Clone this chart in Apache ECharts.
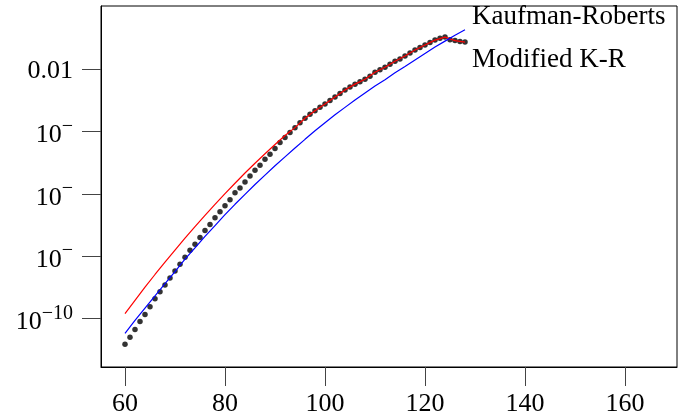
<!DOCTYPE html>
<html>
<head>
<meta charset="utf-8">
<script src="https://cdn.jsdelivr.net/npm/echarts@6/dist/echarts.min.js"></script>
<style>
  html, body { margin: 0; padding: 0; background: #fff; }
  #chart { width: 678px; height: 417px; }
</style>
</head>
<body>
<div id="chart"></div>
<script>
// measured points (black dots)
const dotX = [60, 61, 62, 63, 64, 65, 66, 67, 68, 69, 70, 71, 72, 73, 74, 75, 76, 77, 78, 79,
  80, 81, 82, 83, 84, 85, 86, 87, 88, 89, 90, 91, 92, 93, 94, 95, 96, 97, 98, 99,
  100, 101, 102, 103, 104, 105, 106, 107, 108, 109, 110, 111, 112, 113, 114, 115, 116, 117, 118, 119,
  120, 121, 122, 123, 124, 125, 126, 127, 128];
const dotY = [1.50e-11, 2.49e-11, 4.48e-11, 8.03e-11, 1.34e-10, 2.40e-10, 4.31e-10, 7.20e-10, 1.20e-9, 2.00e-9,
  3.34e-9, 5.57e-9, 9.29e-9, 1.55e-8, 2.40e-8, 4.01e-8, 6.69e-8, 1.04e-7, 1.73e-7, 2.68e-7,
  4.16e-7, 6.45e-7, 1.08e-6, 1.55e-6, 2.40e-6, 3.73e-6, 5.78e-6, 8.33e-6, 1.29e-5, 1.86e-5,
  2.89e-5, 4.48e-5, 6.45e-5, 9.29e-5, 1.34e-4, 1.93e-4, 2.68e-4, 3.60e-4, 4.70e-4, 6.10e-4,
  7.74e-4, 1.00e-3, 1.29e-3, 1.67e-3, 2.15e-3, 2.68e-3, 3.34e-3, 4.01e-3, 4.82e-3, 6.00e-3,
  8.03e-3, 9.64e-3, 1.16e-2, 1.44e-2, 1.80e-2, 2.15e-2, 2.68e-2, 3.34e-2, 4.16e-2, 4.99e-2,
  6.00e-2, 7.20e-2, 8.65e-2, 0.100, 0.108, 8.95e-2, 8.34e-2, 7.74e-2, 7.50e-2];

// model curves
const curveX = [60, 62, 64, 66, 68, 70, 72, 74, 76, 78, 80, 82, 84, 86, 88, 90, 92, 94,
  96, 98, 100, 102, 104, 106, 108, 110, 112, 114, 116, 118, 120, 122, 124, 126, 128];
const modifiedKR = [1.44e-10, 3.84e-10, 1.01e-9, 2.59e-9, 6.50e-9, 1.58e-8, 3.81e-8, 8.96e-8, 2.06e-7,
  4.64e-7, 1.02e-6, 2.20e-6, 4.68e-6, 9.64e-6, 1.95e-5, 3.87e-5, 7.47e-5, 1.34e-4,
  2.68e-4, 4.70e-4, 7.74e-4, 1.29e-3, 2.15e-3, 3.34e-3, 4.82e-3, 8.03e-3, 1.16e-2, 1.80e-2,
  2.68e-2, 4.16e-2, 6.00e-2, 8.65e-2, 0.108, 8.34e-2, 7.50e-2];
const kaufmanRoberts = [3.34e-11, 8.65e-11, 2.17e-10, 5.37e-10, 1.31e-9, 3.22e-9, 8.03e-9, 1.86e-8, 4.31e-8,
  9.64e-8, 2.15e-7, 4.64e-7, 9.64e-7, 2.00e-6, 4.01e-6, 8.03e-6, 1.55e-5, 2.99e-5,
  5.65e-5, 1.06e-4, 1.93e-4, 3.47e-4, 6.00e-4, 1.04e-3, 1.73e-3, 2.89e-3, 4.64e-3, 7.74e-3,
  1.24e-2, 2.00e-2, 3.22e-2, 5.18e-2, 8.03e-2, 0.124, 0.186];

const xTicks = [60, 80, 100, 120, 140, 160];
const yTicks = [1e-10, 1e-8, 1e-6, 1e-4, 1e-2];

const font = "'Liberation Serif', 'Times New Roman', serif";

const chart = echarts.init(document.getElementById("chart"));

const yLabel = (v) => {
  const p = Math.round(Math.log10(v));
  if (p === -2) return "{d|0.01}";
  if (p === -10) return "{b|10}{s|\u221210}";
  return "{b|10}{s|\u2212}";
};

chart.setOption({
  animation: false,
  backgroundColor: "#fff",
  grid: {
    left: 101, right: 1, top: 6, bottom: 46,
    show: true, borderColor: "#000", borderWidth: 1,
  },
  legend: {
    data: ["Kaufman-Roberts", "Modified K-R"],
    orient: "vertical",
    left: 467,
    top: 3,
    padding: 0,
    icon: "none",
    itemWidth: 0,
    itemHeight: 0,
    itemGap: 16,
    selectedMode: false,
    textStyle: { fontFamily: font, fontSize: 27, color: "#000", lineHeight: 26 },
  },
  xAxis: {
    type: "value",
    min: 55.2,
    max: 170.4,
    splitLine: { show: false },
    axisLine: { show: true, lineStyle: { color: "#000", width: 1 } },
    axisTick: { show: true, length: 19, lineStyle: { color: "#444" }, customValues: xTicks },
    axisLabel: { margin: 24, fontFamily: font, fontSize: 26, color: "#000", customValues: xTicks },
  },
  yAxis: {
    type: "log",
    logBase: 10,
    min: 2.78e-12,
    max: 1.076,
    splitLine: { show: false },
    axisLine: { show: true, lineStyle: { color: "#000", width: 1 } },
    axisTick: { show: true, length: 19, lineStyle: { color: "#444" }, customValues: yTicks },
    axisLabel: {
      margin: 28,
      customValues: yTicks,
      formatter: yLabel,
      rich: {
        d: { fontFamily: font, fontSize: 26, color: "#000", lineHeight: 30, padding: [3, 0, 0, 0] },
        b: { fontFamily: font, fontSize: 26, color: "#000", lineHeight: 30, padding: [8, 0, 0, 0] },
        s: { fontFamily: font, fontSize: 20, color: "#000", lineHeight: 14, verticalAlign: "top" },
      },
    },
  },
  series: [
    {
      name: "data",
      type: "scatter",
      symbol: "circle",
      symbolSize: 5.5,
      itemStyle: { color: "#000" },
      data: dotX.map((x, i) => [x, dotY[i]]),
    },
    {
      name: "Modified K-R",
      type: "line",
      showSymbol: false,
      lineStyle: { color: "#ff0000", width: 1.2 },
      itemStyle: { color: "#ff0000" },
      data: curveX.map((x, i) => [x, modifiedKR[i]]),
    },
    {
      name: "Kaufman-Roberts",
      type: "line",
      showSymbol: false,
      lineStyle: { color: "#0000ff", width: 1.2 },
      itemStyle: { color: "#0000ff" },
      data: curveX.map((x, i) => [x, kaufmanRoberts[i]]),
    },
  ],
});
</script>
</body>
</html>
